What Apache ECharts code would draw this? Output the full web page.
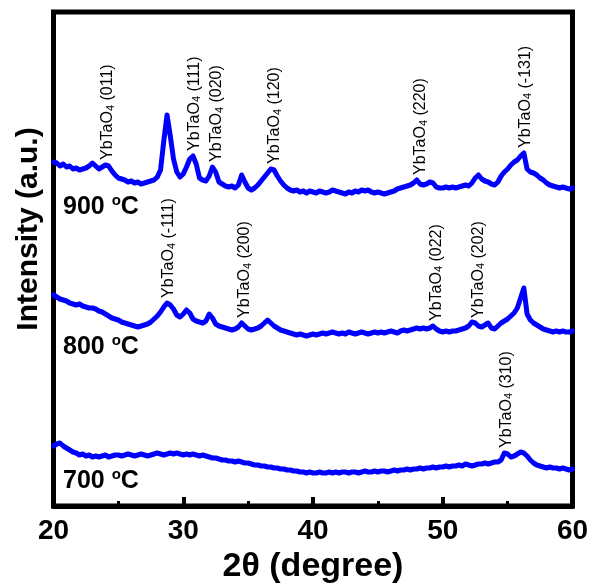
<!DOCTYPE html>
<html>
<head>
<meta charset="utf-8">
<script src="https://cdn.jsdelivr.net/npm/echarts@6/dist/echarts.min.js"></script>
<style>
  html, body { margin: 0; padding: 0; background: #fff; }
  #chart { width: 592px; height: 585px; }
</style>
</head>
<body>
<div id="chart"></div>
<script>
// XRD patterns of YbTaO4 powders calcined at 700, 800 and 900 °C (intensity in a.u., stacked)
const twoTheta = [
  20.00, 20.25, 20.50, 20.75, 21.00, 21.25, 21.50, 21.75, 22.00, 22.25, 22.50, 22.75, 23.00, 23.25, 23.50, 23.75, 24.00, 24.25, 24.50, 24.75,
  25.00, 25.25, 25.50, 25.75, 26.00, 26.25, 26.50, 26.75, 27.00, 27.25, 27.50, 27.75, 28.00, 28.25, 28.50, 28.75, 29.00, 29.25, 29.50, 29.75,
  30.00, 30.25, 30.50, 30.75, 31.00, 31.25, 31.50, 31.75, 32.00, 32.25, 32.50, 32.75, 33.00, 33.25, 33.50, 33.75, 34.00, 34.25, 34.50, 34.75,
  35.00, 35.25, 35.50, 35.75, 36.00, 36.25, 36.50, 36.75, 37.00, 37.25, 37.50, 37.75, 38.00, 38.25, 38.50, 38.75, 39.00, 39.25, 39.50, 39.75,
  40.00, 40.25, 40.50, 40.75, 41.00, 41.25, 41.50, 41.75, 42.00, 42.25, 42.50, 42.75, 43.00, 43.25, 43.50, 43.75, 44.00, 44.25, 44.50, 44.75,
  45.00, 45.25, 45.50, 45.75, 46.00, 46.25, 46.50, 46.75, 47.00, 47.25, 47.50, 47.75, 48.00, 48.25, 48.50, 48.75, 49.00, 49.25, 49.50, 49.75,
  50.00, 50.25, 50.50, 50.75, 51.00, 51.25, 51.50, 51.75, 52.00, 52.25, 52.50, 52.75, 53.00, 53.25, 53.50, 53.75, 54.00, 54.25, 54.50, 54.75,
  55.00, 55.25, 55.50, 55.75, 56.00, 56.25, 56.50, 56.75, 57.00, 57.25, 57.50, 57.75, 58.00, 58.25, 58.50, 58.75, 59.00, 59.25, 59.50, 59.75,
  60.00
];

const int900 = [
  344, 343, 340, 342, 339, 340, 337, 338, 336, 337, 338, 340, 343, 340, 337, 339, 341, 340, 335, 331,
  328, 327, 326, 324, 325, 323, 324, 322, 323, 324, 325, 326, 329, 336, 365, 391, 370, 347, 334, 329,
  332, 339, 347, 350, 342, 328, 326, 325, 330, 339, 334, 324, 322, 320, 319, 320, 318, 321, 331, 324,
  318, 316, 318, 321, 325, 329, 333, 337, 336, 330, 325, 321, 318, 316, 315, 316, 314, 315, 313, 315,
  314, 313, 315, 314, 313, 314, 316, 315, 314, 313, 312, 314, 313, 315, 314, 316, 315, 316, 314, 313,
  314, 313, 312, 313, 314, 315, 317, 318, 319, 320, 321, 323, 326, 322, 321, 322, 324, 323, 319, 318,
  318, 319, 318, 319, 318, 319, 320, 321, 320, 323, 328, 331, 327, 325, 324, 322, 321, 324, 330, 334,
  337, 341, 344, 346, 350, 353, 337, 334, 333, 331, 328, 326, 323, 321, 320, 319, 318, 319, 318, 317,
  318
];

const int800 = [
  211, 209, 207, 206, 205, 203, 202, 201, 202, 200, 199, 198, 198, 197, 195, 194, 192, 190, 188, 187,
  186, 184, 183, 182, 181, 180, 179, 180, 181, 182, 184, 187, 190, 194, 199, 203, 201, 197, 191, 189,
  192, 196, 193, 187, 185, 184, 183, 185, 192, 188, 182, 180, 179, 178, 177, 176, 177, 179, 183, 180,
  177, 176, 177, 178, 180, 183, 186, 183, 180, 178, 176, 175, 174, 173, 172, 171, 172, 171, 170, 171,
  172, 171, 172, 173, 172, 173, 174, 173, 172, 173, 172, 174, 173, 172, 173, 174, 173, 172, 173, 174,
  173, 174, 173, 174, 175, 174, 173, 175, 176, 175, 176, 177, 178, 177, 178, 177, 178, 180, 177, 175,
  174, 175, 174, 175, 175, 176, 177, 178, 180, 184, 183, 180, 179, 181, 183, 178, 177, 180, 183, 185,
  187, 190, 193, 198, 208, 218, 192, 186, 183, 181, 179, 177, 176, 175, 174, 175, 174, 175, 174, 174,
  175
];

const int700 = [
  60, 62, 63, 60, 58, 56, 54, 53, 51, 52, 50, 51, 49, 50, 49, 50, 51, 49, 50, 51,
  51, 50, 51, 52, 51, 50, 51, 52, 51, 50, 51, 52, 53, 52, 51, 52, 53, 52, 53, 52,
  51, 52, 51, 52, 51, 50, 51, 50, 49, 48, 48, 47, 46, 46, 45, 45, 44, 45, 44, 43,
  43, 42, 41, 41, 40, 40, 39, 39, 38, 38, 37, 37, 36, 36, 35, 35, 34, 34, 33, 34,
  33, 33, 34, 33, 33, 34, 33, 34, 33, 34, 34, 33, 34, 34, 33, 34, 35, 34, 34, 35,
  34, 35, 35, 34, 35, 36, 35, 36, 36, 37, 36, 37, 37, 38, 37, 38, 38, 39, 38, 39,
  39, 40, 39, 40, 40, 41, 40, 42, 41, 40, 41, 42, 42, 43, 42, 43, 44, 44, 46, 53,
  52, 49, 50, 52, 54, 53, 50, 46, 43, 41, 40, 39, 38, 39, 38, 38, 37, 38, 37, 36,
  37
];

// Indexed reflections (2θ position and Miller indices) for each pattern
const peaks900 = [24.2, 30.87, 32.6, 37.07, 48.33, 56.35];
const hkl900   = ['(011)', '(111)', '(020)', '(120)', '(220)', '(-131)'];
const peaks800 = [28.9, 34.76, 49.5, 52.73];
const hkl800   = ['(-111)', '(200)', '(022)', '(202)'];
const peaks700 = [54.9];
const hkl700   = ['(310)'];

const tempLabels = ['900', '800', '700'];

const FONT = '"Liberation Sans", Arial, Helvetica, sans-serif';
const BLUE = '#0000ff';

function pairs(ys) { return twoTheta.map((x, i) => [x, ys[i]]); }

// Each annotation sits on the local maximum of its pattern near the reflection
function peakMarks(pos, hkl, ys) {
  return pos.map((p, k) => {
    let top = -Infinity;
    twoTheta.forEach((x, i) => { if (Math.abs(x - p) <= 0.4) top = Math.max(top, ys[i]); });
    return { value: [p, top], hkl: hkl[k] };
  });
}

function curve(name, ys) {
  return {
    name: name,
    type: 'line',
    data: pairs(ys),
    showSymbol: false,
    symbol: 'none',
    silent: true,
    lineStyle: { color: BLUE, width: 5, join: 'round', cap: 'round' },
    z: 3
  };
}

function peakLabels(pos, hkl, ys) {
  return {
    type: 'scatter',
    data: peakMarks(pos, hkl, ys),
    symbolSize: 0,
    silent: true,
    z: 5,
    itemStyle: { opacity: 1, color: '#000' },
    label: {
      show: true,
      position: 'top',
      distance: 5,
      rotate: 90,
      align: 'left',
      verticalAlign: 'middle',
      color: '#000',
      opacity: 1,
      formatter: (p) => '{m|YbTaO}{s|4}{m| ' + p.data.hkl + '}',
      rich: {
        m: { fontFamily: FONT, fontSize: 16, color: '#000', lineHeight: 16 },
        s: { fontFamily: FONT, fontSize: 11, color: '#000', lineHeight: 6, verticalAlign: 'bottom' }
      }
    }
  };
}

const tempRich = {
  t: { fontFamily: FONT, fontSize: 25, fontWeight: 'bold', color: '#000', lineHeight: 28 },
  o: { fontFamily: FONT, fontSize: 15, fontWeight: 'bold', color: '#000', lineHeight: 9, verticalAlign: 'top' }
};

const chart = echarts.init(document.getElementById('chart'), null, { renderer: 'canvas' });

chart.setOption({
  animation: false,
  backgroundColor: '#fff',
  grid: {
    left: 53.5, right: 19.5, top: 12, bottom: 79,
    containLabel: false,
    outerBoundsMode: 'none',
    show: true, borderColor: '#000', borderWidth: 5, backgroundColor: 'transparent'
  },
  xAxis: {
    type: 'value',
    min: 20, max: 60, interval: 10,
    name: '2θ (degree)',
    nameLocation: 'middle',
    nameGap: 44,
    nameTextStyle: { fontFamily: FONT, fontSize: 34, fontWeight: 'bold', color: '#000' },
    axisLine: { show: true, lineStyle: { color: '#000', width: 5 } },
    axisTick: { show: true, inside: true, length: 9, lineStyle: { color: '#000', width: 4 } },
    minorTick: { show: true, splitNumber: 2, length: 5, lineStyle: { color: '#000', width: 3 } },
    splitLine: { show: false },
    axisLabel: { fontFamily: FONT, fontSize: 28, fontWeight: 'bold', color: '#000', margin: 11 }
  },
  yAxis: {
    type: 'value',
    min: 0, max: 494,
    axisLine: { show: false },
    axisTick: { show: false },
    axisLabel: { show: false },
    splitLine: { show: false }
  },
  graphic: [{
    type: 'text',
    x: 29, y: 229,
    rotation: Math.PI / 2,
    style: {
      text: 'Intensity (a.u.)',
      fontFamily: FONT, fontSize: 30, fontWeight: 'bold', fill: '#000',
      align: 'center', verticalAlign: 'middle'
    }
  }],
  series: [
    curve('900', int900),
    curve('800', int800),
    curve('700', int700),
    peakLabels(peaks900, hkl900, int900),
    peakLabels(peaks800, hkl800, int800),
    peakLabels(peaks700, hkl700, int700),
    {
      type: 'scatter',
      symbolSize: 0,
      silent: true,
      z: 5,
      itemStyle: { opacity: 1, color: '#000' },
      data: [
        { value: [20.73, 299], t: tempLabels[0] },
        { value: [20.73, 159], t: tempLabels[1] },
        { value: [20.73, 25],  t: tempLabels[2] }
      ],
      label: {
        show: true,
        position: 'inside',
        align: 'left',
        verticalAlign: 'middle',
        color: '#000',
        opacity: 1,
        formatter: (p) => '{t|' + p.data.t + ' }{o|o}{t|C}',
        rich: tempRich
      }
    }
  ]
});
</script>
</body>
</html>
